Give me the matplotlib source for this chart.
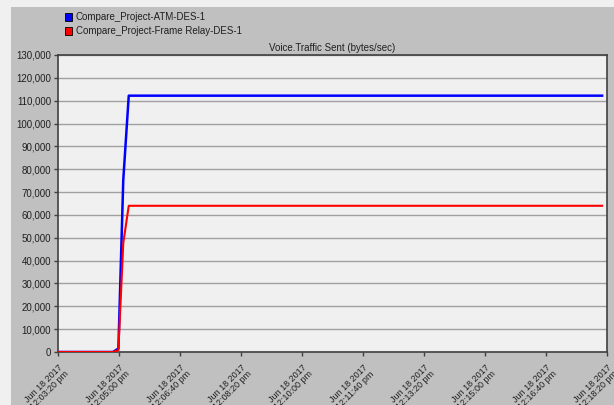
import matplotlib
matplotlib.use("Agg")
import matplotlib.pyplot as plt
from matplotlib.patches import Rectangle

plt.rcParams['font.family'] = ['Liberation Sans', 'DejaVu Sans']

# Simulation time in seconds since 12:03:20 pm
time_s = [0, 90, 99, 107, 116, 892]
atm_bytes = [0, 0, 1500, 75300, 112200, 112200]
frame_relay_bytes = [0, 0, 800, 47700, 64000, 64000]

series_names = ["Compare_Project-ATM-DES-1", "Compare_Project-Frame Relay-DES-1"]
series_colors = ["#0000ff", "#ff0000"]

x_ticks = [0, 100, 200, 300, 400, 500, 600, 700, 800, 900]
x_tick_labels = [
    "Jun 18 2017\n12:03:20 pm", "Jun 18 2017\n12:05:00 pm", "Jun 18 2017\n12:06:40 pm",
    "Jun 18 2017\n12:08:20 pm", "Jun 18 2017\n12:10:00 pm", "Jun 18 2017\n12:11:40 pm",
    "Jun 18 2017\n12:13:20 pm", "Jun 18 2017\n12:15:00 pm", "Jun 18 2017\n12:16:40 pm",
    "Jun 18 2017\n12:18:20 pm",
]
y_ticks = list(range(0, 130001, 10000))
y_tick_labels = [f"{v:,}" for v in y_ticks]

title = "Voice.Traffic Sent (bytes/sec)"

W, H = 614, 405
fig = plt.figure(figsize=(W / 100, H / 100), dpi=100, facecolor="#f0f0f0")

# gray panel behind everything
bg = fig.add_axes([11 / W, 0, 1 - 11 / W, 1 - 7 / H], zorder=-5)
bg.set_facecolor("#c0c0c0")
bg.set_xticks([])
bg.set_yticks([])
for s in bg.spines.values():
    s.set_visible(False)

ax = fig.add_axes([58 / W, 1 - 352 / H, 549 / W, 297 / H], zorder=1)
ax.set_facecolor("#f0f0f0")

ax.plot(time_s, atm_bytes, color=series_colors[0], lw=1.8, zorder=3)
ax.plot(time_s, frame_relay_bytes, color=series_colors[1], lw=1.5, zorder=3)

ax.set_xlim(0, 900)
ax.set_ylim(0, 130000)
ax.set_yticks(y_ticks)
ax.set_yticklabels(y_tick_labels, fontsize=7, color="#202020")
ax.set_xticks(x_ticks)
ax.set_xticklabels(x_tick_labels, fontsize=6.5, color="#202020", rotation=45,
                   ha="right", va="top", rotation_mode="anchor", linespacing=0.95)
ax.tick_params(axis="both", direction="out", length=3, width=1, color="#404040", pad=2)
ax.tick_params(axis="x", pad=5)

ax.yaxis.grid(True, color="#a0a0a0", lw=1)
ax.set_axisbelow(True)
for s in ax.spines.values():
    s.set_color("#404040")
    s.set_linewidth(1.2)

ax.set_title(title, fontsize=7, color="#202020", pad=3)

# legend with colored squares
for i, (name, col) in enumerate(zip(series_names, series_colors)):
    y = 1 - (17 + 14.5 * i) / H
    fig.patches.append(Rectangle((65 / W, y - 4 / H), 7 / W, 8 / H, transform=fig.transFigure,
                                 facecolor=col, edgecolor="#000000", lw=0.6, zorder=2))
    fig.text(76 / W, y, name, fontsize=7, va="center", ha="left", color="#202020", zorder=3)

fig.savefig("out.png", dpi=100, facecolor=fig.get_facecolor())
